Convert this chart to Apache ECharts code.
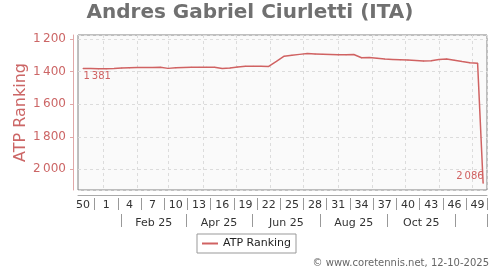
<!DOCTYPE html>
<html><head><meta charset="utf-8">
<script src="https://cdn.jsdelivr.net/npm/echarts@6/dist/echarts.min.js"></script>
<style>html,body{margin:0;padding:0;background:#fff}#c{width:500px;height:270px}</style>
</head><body><div id="c"></div>
<script>
const titleText = 'Andres Gabriel Ciurletti (ITA)';
const seriesName = 'ATP Ranking';
const creditText = '\u00A9 www.coretennis.net, 12-10-2025';
const axisStart = '2024-12-09';
const axisEnd = '2025-12-13';
const firstWeekDate = '2024-12-13';
const weekNumbers = [50,51,52,1,2,3,4,5,6,7,8,9,10,11,12,13,14,15,16,17,18,19,20,21,22,23,24,25,26,27,28,29,30,31,32,33,34,35,36,37,38,39,40,41,42,43,44,45,46,47,48,49];
const rankings = [1381,1381,1382,1383,1381,1378,1376,1375,1375,1374,1373,1380,1376,1374,1373,1373,1373,1373,1381,1378,1372,1367,1367,1367,1368,
  1337,1305,1299,1294,1289,1291,1293,1295,1297,1296,1295,1315,1313,1318,1323,1325,1327,1329,1331,1335,1333,1326,1322,1330,1338,1345,1349];
const latestDate = '2025-12-10';
const latestRanking = 2086;
const monthLabels = ['Feb 25','Apr 25','Jun 25','Aug 25','Oct 25'];
const monthLabelDates = ['2025-02-15','2025-04-15','2025-06-15','2025-08-15','2025-10-15'];
const yMin = 1175, yMax = 2127;

const lineColor = '#d06262';
const redText = '#cc6666';

function addDays(s, n) { const d = new Date(s + 'T00:00:00Z'); d.setUTCDate(d.getUTCDate() + n); return d.toISOString().slice(0, 10); }
const days = [];
for (let d = axisStart; d <= axisEnd; d = addDays(d, 1)) days.push(d);
const dayIndex = {};
days.forEach((d, i) => dayIndex[d] = i);

const pointDates = rankings.map((_, k) => addDays(firstWeekDate, 7 * k));
const allDates = pointDates.concat([latestDate]);
const allValues = rankings.concat([latestRanking]);

const fmt = v => String(Math.round(v)).replace(/\B(?=(\d{3})+(?!\d))/g, '\u2009');

const weekLabelMap = new Map();
const weekLabelPos = [];
pointDates.forEach((d, k) => { if (k % 3 === 0) { weekLabelMap.set(dayIndex[d], String(weekNumbers[k])); weekLabelPos.push(dayIndex[d]); } });
const weekSepSet = new Set();
for (let i = 1; i < weekLabelPos.length; i++) weekSepSet.add(Math.round((weekLabelPos[i - 1] + weekLabelPos[i]) / 2 + 0.5));

const monthStartSet = new Set();
days.forEach((d, i) => { if (d.endsWith('-01')) monthStartSet.add(i); });

const monthLabelMap = new Map();
const mPos = monthLabelDates.map(d => dayIndex[d]);
mPos.forEach((p, i) => monthLabelMap.set(p, monthLabels[i]));
const monthSepSet = new Set();
const ext = [2 * mPos[0] - mPos[1]].concat(mPos, [2 * mPos[mPos.length - 1] - mPos[mPos.length - 2]]);
for (let i = 1; i < ext.length; i++) {
  const s = Math.round((ext[i - 1] + ext[i]) / 2 + 0.5);
  if (s >= 0 && s < days.length) monthSepSet.add(s);
}

const lastIdx = allDates.length - 1;
const seriesData = allDates.map((d, i) => {
  const item = { value: [d, allValues[i]] };
  if (i === 0) item.label = { show: true, position: [1, 3], align: 'left', verticalAlign: 'top' };
  if (i === lastIdx) item.label = { show: true, position: [1, -1], align: 'right', verticalAlign: 'bottom' };
  return item;
});

const chart = echarts.init(document.getElementById('c'), null, { renderer: 'canvas' });
chart.setOption({
  animation: false,
  textStyle: { fontFamily: 'DejaVu Sans' },
  title: [
    { text: titleText, left: 'center', top: -2, textStyle: { fontSize: 20, fontWeight: 'bold', color: '#707070', fontFamily: 'DejaVu Sans' } },
    { text: creditText, right: 6, bottom: -3, textStyle: { fontSize: 10, fontWeight: 'normal', color: '#666', fontFamily: 'DejaVu Sans' } }
  ],
  legend: {
    data: [seriesName], left: 197, top: 234, backgroundColor: '#fff', borderColor: '#999', borderWidth: 1,
    padding: [4, 5], icon: 'rect', itemWidth: 16, itemHeight: 2,
    textStyle: { fontSize: 11, color: '#222', fontFamily: 'DejaVu Sans' }
  },
  grid: { left: 78, right: 13, top: 35, bottom: 80, show: true, borderColor: '#808080', borderWidth: 1, backgroundColor: '#fafafa' },
  xAxis: [
    { type: 'category', data: days, boundaryGap: true, axisLine: { show: false }, axisTick: { show: false }, axisLabel: { show: false },
      splitLine: { show: true, interval: i => monthStartSet.has(i), lineStyle: { color: '#dcdcdc', type: [3, 3] } } },
    { type: 'category', data: days, position: 'bottom', offset: 5, axisLine: { show: true, lineStyle: { color: '#aaa' } }, axisTick: { show: false },
      axisLabel: { interval: i => weekLabelMap.has(i), formatter: (v, i) => weekLabelMap.get(i) || '', margin: 5, fontSize: 11, color: '#333', fontFamily: 'DejaVu Sans' } },
    { type: 'category', data: days, position: 'bottom', offset: 8, axisLine: { show: false },
      axisTick: { show: true, interval: i => weekSepSet.has(i), length: 12, lineStyle: { color: '#999' } }, axisLabel: { show: false } },
    { type: 'category', data: days, position: 'bottom', offset: 24, axisLine: { show: false },
      axisTick: { show: true, interval: i => monthSepSet.has(i), length: 13, lineStyle: { color: '#999' } },
      axisLabel: { interval: i => monthLabelMap.has(i), formatter: (v, i) => monthLabelMap.get(i) || '', margin: 4, fontSize: 11, color: '#333', fontFamily: 'DejaVu Sans' } }
  ],
  yAxis: {
    type: 'value', inverse: true, min: yMin, max: yMax, splitNumber: 5, offset: 5,
    name: seriesName, nameLocation: 'middle', nameGap: 44, nameMoveOverlap: false,
    nameTextStyle: { fontSize: 16, color: redText, fontFamily: 'DejaVu Sans' },
    axisLine: { show: true, lineStyle: { color: '#e0a8a8' } },
    axisTick: { show: true, length: 3, lineStyle: { color: '#e0a8a8' } },
    axisLabel: { showMinLabel: false, showMaxLabel: false, formatter: fmt, fontSize: 12, color: redText, margin: 7, fontFamily: 'DejaVu Sans' },
    splitLine: { show: true, lineStyle: { color: '#dcdcdc', type: [3, 3] } }
  },
  series: [{
    type: 'line', name: seriesName, xAxisIndex: 0, data: seriesData,
    symbol: 'circle', symbolSize: 1, showSymbol: true, showAllSymbol: true,
    itemStyle: { color: lineColor }, lineStyle: { color: lineColor, width: 1.5 },
    label: { show: false, formatter: p => fmt(p.value[1]), fontSize: 10, color: lineColor, fontFamily: 'DejaVu Sans' },
    emphasis: { disabled: true }
  }]
});
</script></body></html>
